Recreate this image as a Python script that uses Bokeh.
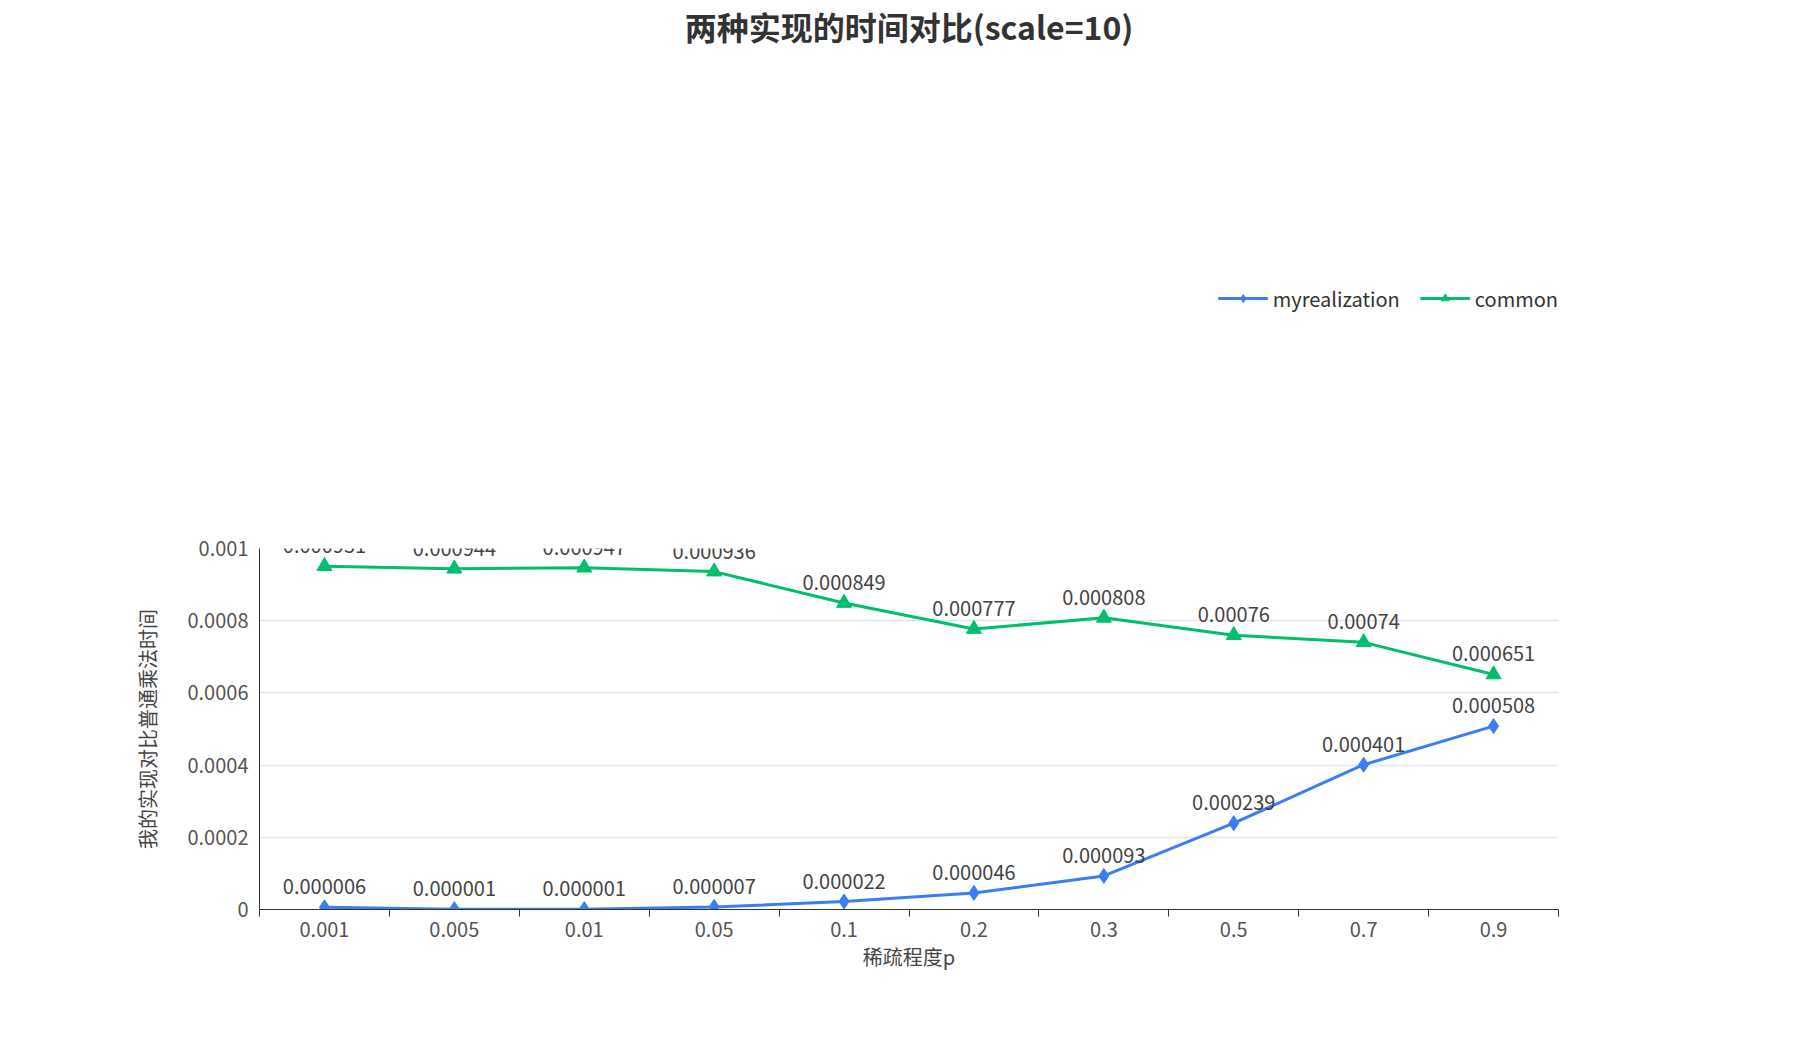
from bokeh.plotting import figure
from bokeh.models import ColumnDataSource, FixedTicker, Legend, LegendItem, Range1d
from bokeh.embed import file_html
from bokeh.resources import INLINE
from bokeh.core.properties import value

categories = ["0.001", "0.005", "0.01", "0.05", "0.1", "0.2", "0.3", "0.5", "0.7", "0.9"]
myrealization = [0.000006, 0.000001, 0.000001, 0.000007, 0.000022, 0.000046, 0.000093, 0.000239, 0.000401, 0.000508]
common = [0.000951, 0.000944, 0.000947, 0.000936, 0.000849, 0.000777, 0.000808, 0.00076, 0.00074, 0.000651]
y_ticks = [0, 0.0002, 0.0004, 0.0006, 0.0008, 0.001]
y_labels = ["0", "0.0002", "0.0004", "0.0006", "0.0008", "0.001"]

FONT = "Noto Sans CJK SC"
BLUE = "#3a7ef5"
GREEN = "#00bf6a"

xs = list(range(len(categories)))

p = figure(width=1784, height=1030, output_backend="svg", toolbar_location=None,
           x_range=Range1d(-0.5, len(categories) - 0.5), y_range=Range1d(0, 0.001),
           min_border_left=259, min_border_right=226, min_border_top=20, min_border_bottom=121)
p.outline_line_color = None
p.background_fill_color = "white"

p.title.text = "两种实现的时间对比(scale=10)"
p.title.align = "center"
p.title.text_font = FONT
p.title.text_font_size = "32px"
p.title.text_color = "#333333"
p.title.offset = 0
p.title.standoff = 0

p.xaxis.ticker = FixedTicker(ticks=xs, minor_ticks=[i - 0.5 for i in range(len(categories) + 1)])
p.xaxis.major_label_overrides = {i: c for i, c in enumerate(categories)}
p.xaxis.major_tick_line_color = None
p.xaxis.minor_tick_line_color = "#333333"
p.xaxis.minor_tick_in = 0
p.xaxis.minor_tick_out = 7
p.xaxis.axis_line_color = "#333333"
p.xaxis.axis_label = "稀疏程度p"
p.xaxis.axis_label_standoff = 2

p.yaxis.ticker = FixedTicker(ticks=y_ticks)
p.yaxis.major_label_overrides = {t: l for t, l in zip(y_ticks, y_labels)}
p.yaxis.major_tick_line_color = None
p.yaxis.minor_tick_line_color = None
p.yaxis.axis_line_color = "#333333"
p.yaxis.axis_label = "我的实现对比普通乘法时间"
p.yaxis.axis_label_standoff = 22

for ax in (p.xaxis[0], p.yaxis[0]):
    ax.major_label_text_font = FONT
    ax.major_label_text_font_size = "20px"
    ax.major_label_text_color = "#555555"
    ax.axis_label_text_font = FONT
    ax.axis_label_text_font_size = "20px"
    ax.axis_label_text_font_style = "normal"
    ax.axis_label_text_color = "#444444"

p.xgrid.grid_line_color = None
p.ygrid.ticker = FixedTicker(ticks=y_ticks)
p.ygrid.grid_line_color = "#e0e6f1"
p.ygrid.grid_line_width = 1.5

items = []
for name, vals, color, marker in [("myrealization", myrealization, BLUE, "diamond"),
                                  ("common", common, GREEN, "triangle")]:
    src = ColumnDataSource(dict(x=xs, y=vals, label=[f"{v:.6f}".rstrip("0") for v in vals]))
    ln = p.line("x", "y", source=src, line_color=color, line_width=3)
    sc = p.scatter("x", "y", source=src, marker=marker, size=15, fill_color=color, line_color=color)
    p.text("x", "y", text="label", source=src, text_align="center", text_baseline="bottom",
           y_offset=-13, text_font=value(FONT), text_font_size="20px", text_color="#444444")
    items.append(LegendItem(label=name, renderers=[ln, sc]))

legend = Legend(items=items, orientation="horizontal", location="top_right",
                label_text_font=FONT, label_text_font_size="20px", label_text_color="#333333",
                border_line_color=None, background_fill_alpha=0, glyph_width=50, spacing=20,
                padding=0, margin=0)
p.add_layout(legend, "above")

open("out.html", "w").write(file_html(p, INLINE))
